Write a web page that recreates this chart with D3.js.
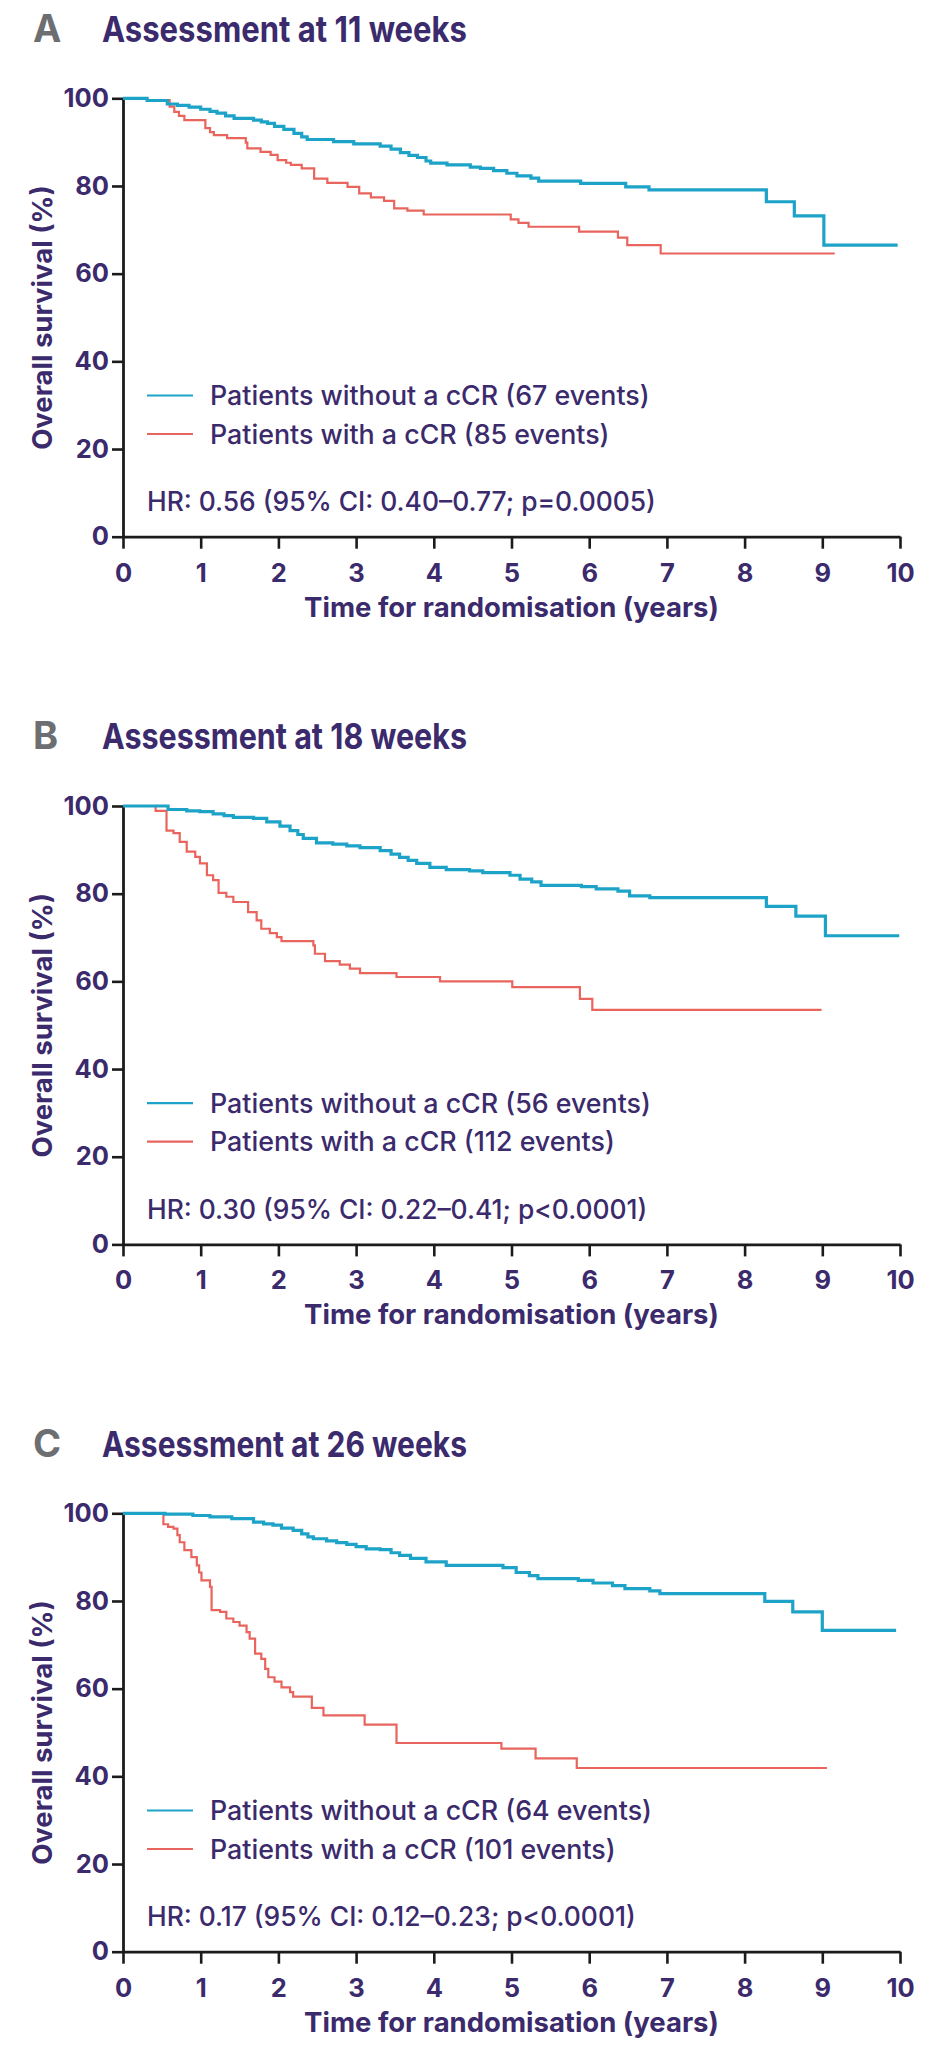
<!DOCTYPE html>
<html>
<head>
<meta charset="utf-8">
<script src="https://cdn.jsdelivr.net/npm/d3@7"></script>
<style>
  body { margin: 0; background: #fff; }
  .tick text { font-family: Inter, "Noto Sans", sans-serif; }
</style>
</head>
<body>
<div id="chart"></div>
<script>
// ---- data ----
const panelLetters = ["A", "B", "C"];
const panelTitles = ["Assessment at 11 weeks", "Assessment at 18 weeks", "Assessment at 26 weeks"];
const withoutLabels = [
  "Patients without a cCR (67 events)",
  "Patients without a cCR (56 events)",
  "Patients without a cCR (64 events)"
];
const withLabels = [
  "Patients with a cCR (85 events)",
  "Patients with a cCR (112 events)",
  "Patients with a cCR (101 events)"
];
const hrLabels = [
  "HR: 0.56 (95% CI: 0.40\u20130.77; p=0.0005)",
  "HR: 0.30 (95% CI: 0.22\u20130.41; p<0.0001)",
  "HR: 0.17 (95% CI: 0.12\u20130.23; p<0.0001)"
];
const xTicks = [0, 1, 2, 3, 4, 5, 6, 7, 8, 9, 10];
const yTicks = [0, 20, 40, 60, 80, 100];
const xTitle = "Time for randomisation (years)";
const yTitle = "Overall survival (%)";

// [years, survival %] — value holds from that time on
const withoutA = [[0,100],[0.31,99.5],[0.57,98.7],[0.7,98.4],[0.85,98.0],[1.0,97.5],[1.12,97.0],[1.21,96.6],[1.32,96.0],[1.43,95.4],[1.68,95.0],[1.78,94.6],[1.86,94.3],[1.95,93.6],[2.07,92.9],[2.2,92.0],[2.3,91.2],[2.37,90.6],[2.71,90.1],[2.97,89.6],[3.31,89.1],[3.45,88.4],[3.57,87.6],[3.68,87.0],[3.79,86.5],[3.9,85.7],[3.96,85.2],[4.17,84.8],[4.47,84.3],[4.6,84.0],[4.77,83.5],[4.94,82.9],[5.07,82.3],[5.25,81.8],[5.35,81.1],[5.89,80.6],[6.47,79.8],[6.77,79.1],[8.28,76.4],[8.64,73.2],[9.02,66.5],[9.97,66.5]];
const withA = [[0,100],[0.31,99.6],[0.6,98.1],[0.66,96.9],[0.72,96.0],[0.79,95.0],[1.06,93.2],[1.12,92.3],[1.17,91.6],[1.34,90.9],[1.58,89.9],[1.6,88.6],[1.77,87.8],[1.9,87.1],[1.99,85.9],[2.1,85.3],[2.16,84.8],[2.3,84.0],[2.46,81.7],[2.63,80.7],[2.89,79.8],[3.04,78.3],[3.19,77.4],[3.36,76.6],[3.49,74.9],[3.66,74.4],[3.87,73.5],[4.99,72.4],[5.09,71.6],[5.22,70.7],[5.87,69.6],[6.37,68.2],[6.49,66.5],[6.92,64.6],[9.16,64.6]];

const withoutB = [[0,100],[0.58,99.2],[0.82,98.9],[0.99,98.7],[1.16,98.2],[1.3,97.8],[1.42,97.4],[1.68,97.2],[1.85,96.4],[2.02,95.4],[2.15,94.4],[2.25,93.5],[2.32,92.6],[2.49,91.6],[2.7,91.3],[2.88,90.9],[3.05,90.5],[3.31,89.8],[3.45,89.0],[3.56,88.3],[3.67,87.6],[3.78,86.9],[3.95,86.0],[4.16,85.5],[4.46,85.2],[4.63,84.8],[4.98,84.2],[5.11,83.3],[5.26,82.7],[5.38,81.9],[5.9,81.6],[6.09,81.1],[6.37,80.6],[6.52,79.5],[6.78,79.1],[8.28,77.1],[8.66,74.9],[9.04,70.4],[9.99,70.4]];
const withB = [[0,100],[0.42,98.9],[0.56,94.4],[0.65,93.8],[0.73,91.8],[0.82,89.6],[0.93,88.4],[0.99,86.9],[1.08,84.2],[1.16,83.1],[1.23,80.2],[1.33,79.3],[1.42,78.1],[1.61,75.8],[1.72,73.9],[1.78,72.0],[1.89,71.0],[1.98,70.1],[2.04,69.2],[2.45,68.2],[2.47,66.3],[2.6,64.6],[2.79,63.8],[2.92,62.9],[3.05,61.9],[3.52,61.0],[4.08,60.0],[5.01,58.7],[5.88,56.0],[6.04,53.5],[8.99,53.5]];

const withoutC = [[0,100],[0.54,99.8],[0.9,99.5],[1.12,99.2],[1.4,98.8],[1.68,98.0],[1.81,97.6],[1.93,97.3],[2.04,96.6],[2.19,96.1],[2.3,95.3],[2.38,94.6],[2.45,94.2],[2.62,93.7],[2.75,93.3],[2.88,92.9],[3.0,92.4],[3.13,91.9],[3.31,91.7],[3.45,91.0],[3.56,90.4],[3.7,89.7],[3.9,88.9],[4.16,88.1],[4.89,87.6],[5.06,86.5],[5.23,85.8],[5.34,85.1],[5.86,84.7],[6.05,84.1],[6.3,83.5],[6.46,82.8],[6.78,82.3],[6.91,81.7],[8.26,79.9],[8.62,77.5],[9.0,73.3],[9.95,73.3]];
const withC = [[0,100],[0.52,97.5],[0.58,96.9],[0.65,96.5],[0.7,95.0],[0.73,93.4],[0.79,91.6],[0.88,90.0],[0.95,88.1],[0.98,86.5],[1.01,84.7],[1.12,83.2],[1.14,77.9],[1.25,77.5],[1.33,76.0],[1.42,75.2],[1.5,74.4],[1.59,72.9],[1.63,71.4],[1.7,68.0],[1.78,66.8],[1.83,64.5],[1.87,62.6],[1.95,61.6],[2.04,60.3],[2.15,59.2],[2.19,58.2],[2.43,55.6],[2.58,53.9],[3.11,51.8],[3.52,47.6],[4.87,46.3],[5.31,44.1],[5.84,41.9],[9.06,41.9]];

const withoutSeries = [withoutA, withoutB, withoutC];
const withSeries = [withA, withB, withC];

// ---- layout / style ----
const width = 940;
const height = 2048;
const panelOffsets = [0, 707.7, 1415];
const purple = "#3b2a6c";
const blue = "#1ea3c8";
const red = "#e8645c";
const axisColor = "#1b1b1b";
const font = "Inter, 'Noto Sans', sans-serif";

const x = d3.scaleLinear([0, 10], [123, 900]);
const y = d3.scaleLinear([0, 100], [536.7, 98.3]);

const line = d3.line()
  .x((d) => x(d[0]))
  .y((d) => y(d[1]))
  .curve(d3.curveStepAfter);

const svg = d3.select("#chart")
  .append("svg")
  .attr("width", width)
  .attr("height", height);

panelLetters.forEach((letter, i) => {
  const g = svg.append("g").attr("transform", `translate(0, ${panelOffsets[i]})`);

  // heading
  g.append("text")
    .attr("x", 33)
    .attr("y", 41.5)
    .attr("font-family", font)
    .attr("font-weight", 700)
    .attr("font-size", 38)
    .attr("fill", "#6d6e71")
    .text(letter);

  g.append("text")
    .attr("x", 102)
    .attr("y", 41.5)
    .attr("font-family", font)
    .attr("font-weight", 700)
    .attr("font-size", 36)
    .attr("fill", purple)
    .attr("textLength", 365)
    .attr("lengthAdjust", "spacingAndGlyphs")
    .text(panelTitles[i]);

  // axes
  const yAxis = g.append("g")
    .attr("transform", `translate(${x(0)}, 0)`)
    .call(d3.axisLeft(y).tickValues(yTicks).tickSize(11).tickPadding(3).tickSizeOuter(0));

  const xAxis = g.append("g")
    .attr("transform", `translate(0, ${y(0)})`)
    .call(d3.axisBottom(x).tickValues(xTicks).tickSize(12).tickPadding(15).tickSizeOuter(0));

  [yAxis, xAxis].forEach((ax) => {
    ax.select(".domain").attr("stroke", axisColor).attr("stroke-width", 2.8);
    ax.selectAll(".tick line").attr("stroke", axisColor).attr("stroke-width", 2.6);
    ax.selectAll(".tick text")
      .attr("fill", purple)
      .attr("font-size", 25.5)
      .attr("font-weight", 700);
  });

  g.append("text")
    .attr("x", (x(0) + x(10)) / 2)
    .attr("y", 616.7)
    .attr("text-anchor", "middle")
    .attr("font-family", font)
    .attr("font-weight", 700)
    .attr("font-size", 27.5)
    .attr("fill", purple)
    .text(xTitle);

  g.append("text")
    .attr("transform", `translate(52, ${(y(0) + y(100)) / 2}) rotate(-90)`)
    .attr("text-anchor", "middle")
    .attr("font-family", font)
    .attr("font-weight", 700)
    .attr("font-size", 27.5)
    .attr("fill", purple)
    .text(yTitle);

  // survival curves
  g.append("path")
    .attr("d", line(withSeries[i]))
    .attr("fill", "none")
    .attr("stroke", red)
    .attr("stroke-width", 2.2);

  g.append("path")
    .attr("d", line(withoutSeries[i]))
    .attr("fill", "none")
    .attr("stroke", blue)
    .attr("stroke-width", 3.2);

  // legend
  const legend = [
    { label: withoutLabels[i], color: blue, y: 405 },
    { label: withLabels[i], color: red, y: 443.5 }
  ];

  legend.forEach((item) => {
    g.append("line")
      .attr("x1", 147)
      .attr("x2", 193)
      .attr("y1", item.y - 9.5)
      .attr("y2", item.y - 9.5)
      .attr("stroke", item.color)
      .attr("stroke-width", 2.2);

    g.append("text")
      .attr("x", 210)
      .attr("y", item.y)
      .attr("font-family", font)
      .attr("font-weight", 500)
      .attr("font-size", 26.8)
      .attr("fill", purple)
      .text(item.label);
  });

  g.append("text")
    .attr("x", 147)
    .attr("y", 511)
    .attr("font-family", font)
    .attr("font-weight", 500)
    .attr("font-size", 26.4)
    .attr("fill", purple)
    .text(hrLabels[i]);
});
</script>
</body>
</html>
